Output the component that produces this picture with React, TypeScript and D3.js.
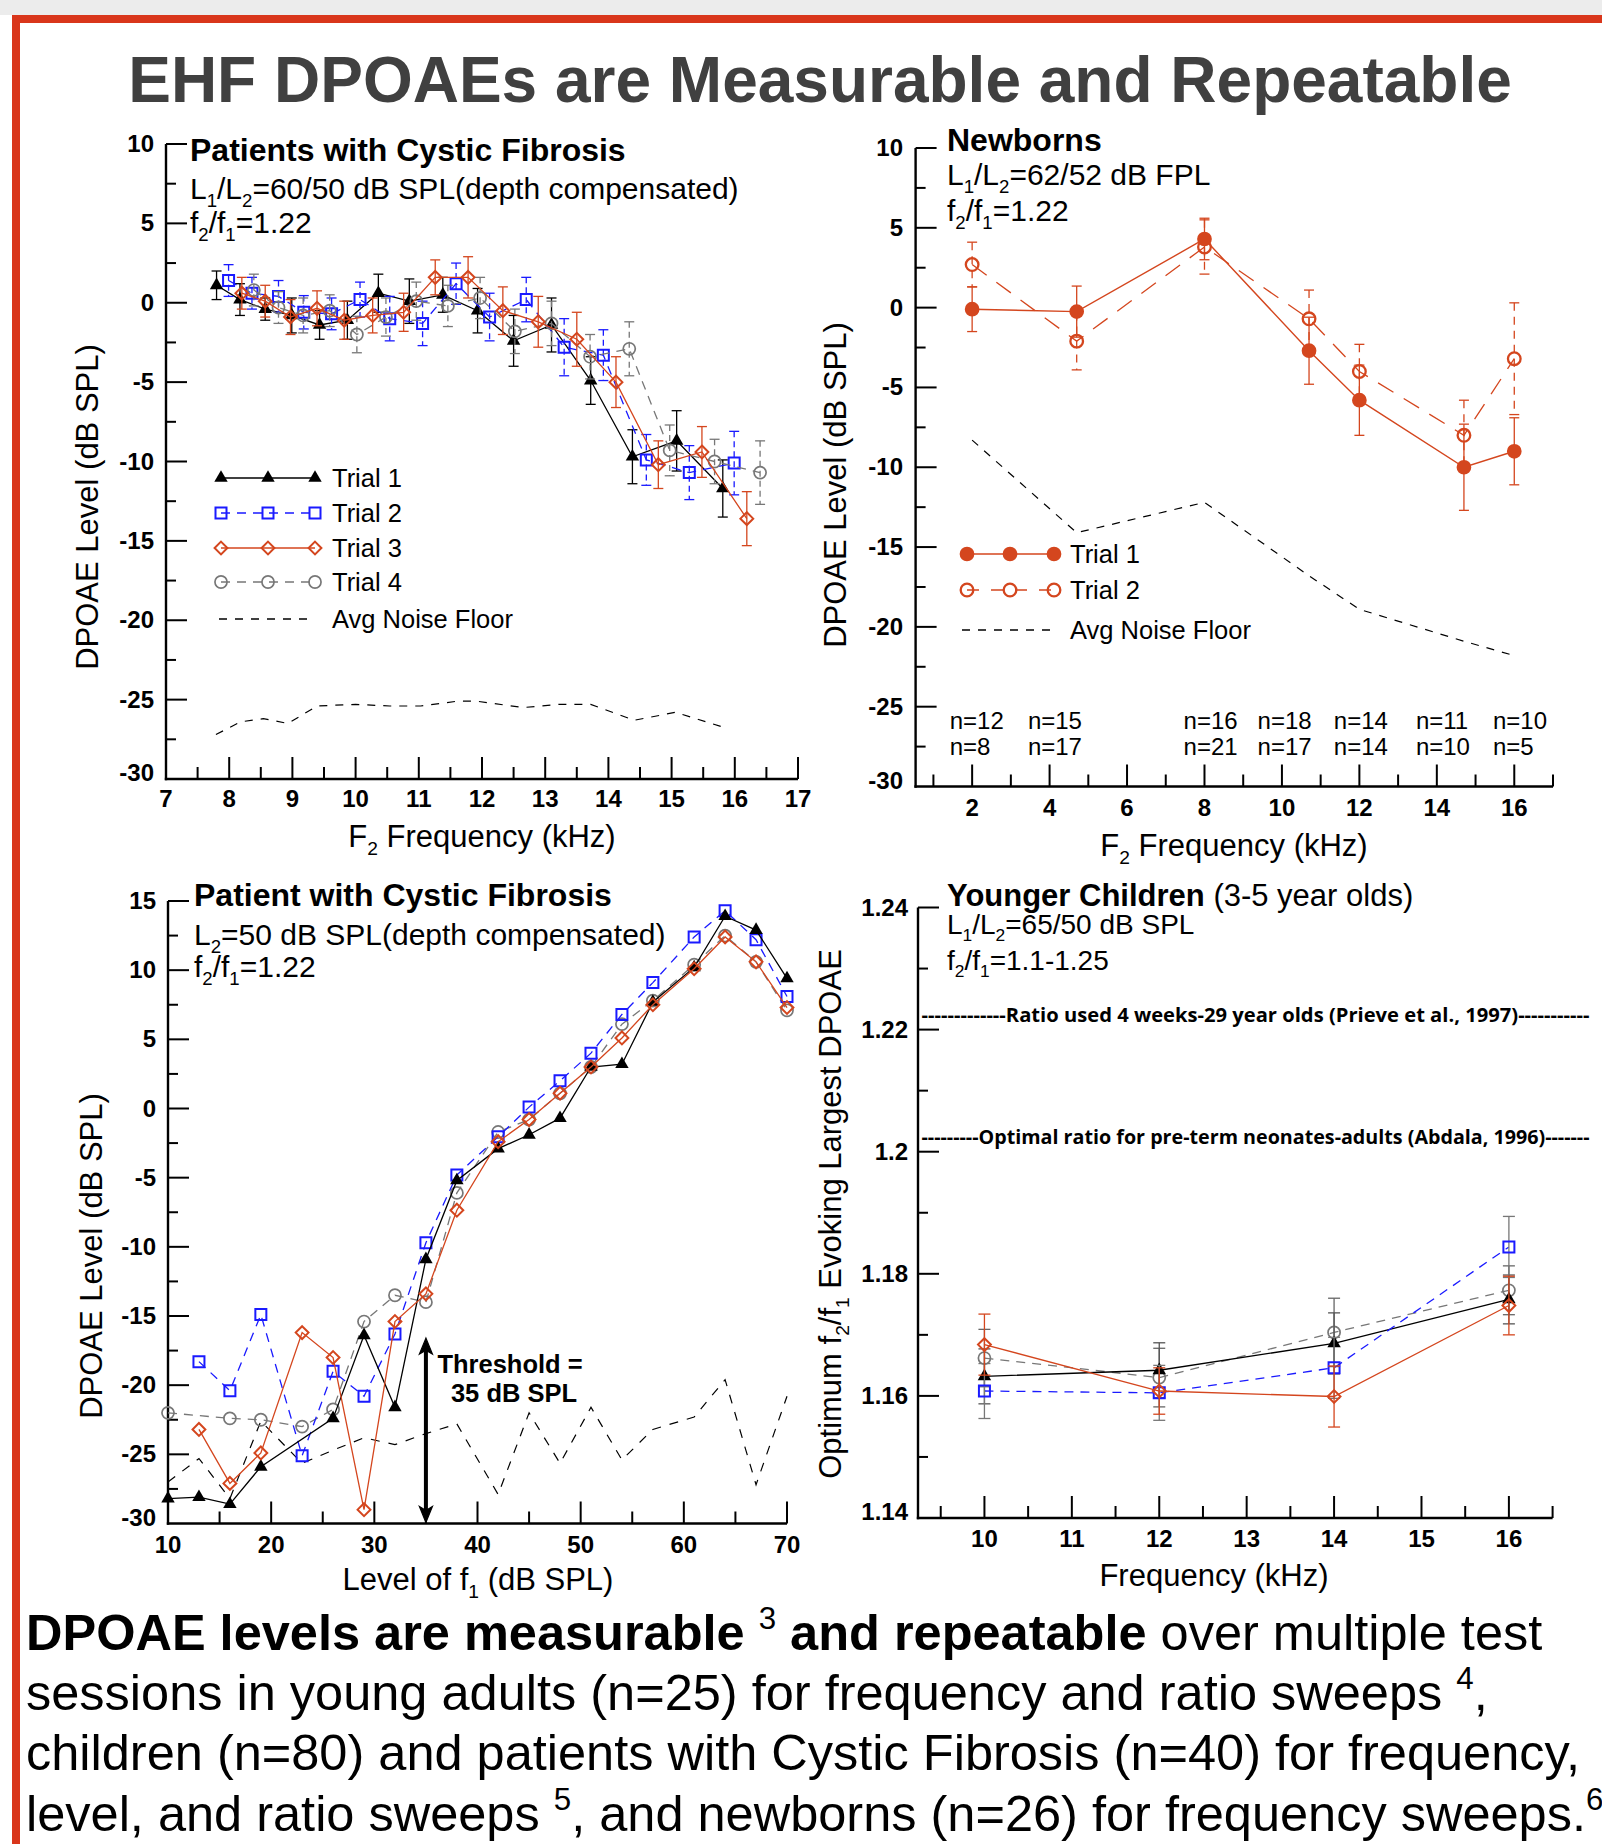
import React from "react";
import * as d3 from "d3";

const RED = "#d9361b";
const ORANGE = "#d4461e";
const BLUE = "#1a1aff";
const GRAY = "#777777";
const INK = "#000000";
const FONT = "'Liberation Sans', Arial, sans-serif";

// ---------- panel 1: patients with CF, frequency sweep ----------
const cfT1F = [7.8, 8.17, 8.57, 8.99, 9.43, 9.87, 10.36, 10.85, 11.38, 11.93, 12.5, 13.1, 13.72, 14.38, 15.08, 15.81];
const cfT1V = [1.1, 0.2, -0.4, -0.8, -1.4, -1.1, 0.6, 0.1, 0.5, -0.5, -2.4, -1.4, -4.9, -9.7, -8.7, -11.7];
const cfT1E = [0.9, 1.0, 0.7, 1.1, 0.9, 1.2, 1.2, 1.4, 1.1, 1.4, 1.6, 1.7, 1.5, 1.7, 1.9, 1.8];
const cfT2F = [7.99, 8.36, 8.78, 9.18, 9.62, 10.07, 10.54, 11.06, 11.59, 12.12, 12.7, 13.3, 13.92, 14.6, 15.28, 15.99];
const cfT2V = [1.4, 0.6, 0.4, -0.6, -0.7, 0.2, -1.0, -1.3, 1.2, -0.9, 0.2, -2.8, -3.3, -9.9, -10.7, -10.1];
const cfT2E = [1.0, 1.0, 1.0, 1.05, 1.0, 1.1, 1.4, 1.4, 1.3, 1.5, 1.4, 1.8, 1.6, 1.6, 1.7, 2.0];
const cfT3F = [8.2, 8.57, 8.97, 9.39, 9.82, 10.27, 10.76, 11.26, 11.78, 12.33, 12.89, 13.5, 14.12, 14.79, 15.48, 16.19];
const cfT3V = [0.6, 0.1, -0.9, -0.35, -1.1, -0.8, -0.6, 1.6, 1.6, -0.5, -1.2, -2.3, -5.0, -10.2, -9.4, -13.6];
const cfT3E = [1.0, 1.0, 1.1, 1.1, 1.2, 1.1, 1.2, 1.1, 1.3, 1.5, 1.6, 1.7, 1.6, 1.5, 1.6, 1.7];
const cfT4F = [8.39, 8.78, 9.17, 9.59, 10.02, 10.48, 10.96, 11.46, 11.97, 12.52, 13.1, 13.71, 14.33, 14.97, 15.68, 16.4];
const cfT4V = [0.8, -0.3, -0.8, -0.5, -2.0, -0.9, 0.1, -0.2, 0.3, -1.8, -1.3, -3.4, -2.9, -9.3, -10.0, -10.7];
const cfT4E = [1.0, 1.0, 1.1, 1.0, 1.15, 1.2, 1.2, 1.3, 1.3, 1.4, 1.4, 1.4, 1.7, 1.6, 1.4, 2.0];
const cfNoiseF = [7.79, 8.18, 8.54, 8.93, 9.39, 10.0, 10.54, 11.03, 11.61, 11.92, 12.65, 13.22, 13.72, 14.41, 15.06, 15.79];
const cfNoiseV = [-27.2, -26.4, -26.2, -26.5, -25.4, -25.3, -25.4, -25.4, -25.1, -25.1, -25.5, -25.3, -25.3, -26.3, -25.8, -26.7];

// ---------- panel 2: newborns ----------
const nbF = [2, 4.7, 8, 10.7, 12, 14.7, 16];
const nbT1 = [-0.1, -0.25, 4.3, -2.7, -5.8, -10.0, -9.0];
const nbT1E = [1.4, 1.6, 1.3, 2.1, 2.2, 2.7, 2.1];
const nbT2 = [2.7, -2.1, 3.8, -0.7, -4.0, -8.0, -3.2];
const nbT2E = [1.4, 1.8, 1.7, 1.8, 1.7, 2.2, 3.5];
const nbNoise = [-8.3, -14.1, -12.2, -16.8, -18.9, -20.9, -21.8];
const nbNTop = ["n=12", "n=15", "n=16", "n=18", "n=14", "n=11", "n=10"];
const nbNBot = ["n=8", "n=17", "n=21", "n=17", "n=14", "n=10", "n=5"];
const nbNPos = [1.42, 3.44, 7.46, 9.37, 11.34, 13.46, 15.45];

// ---------- panel 3: patient with CF, level sweep ----------
const lvl = [10, 13, 16, 19, 23, 26, 29, 32, 35, 38, 42, 45, 48, 51, 54, 57, 61, 64, 67, 70];
const lvT1 = [-28.2, -28.1, -28.6, -25.9, null, -22.4, -16.4, -21.6, -10.9, -5.2, -2.9, -1.9, -0.7, 3.0, 3.2, 7.7, 10.2, 13.9, 12.9, 9.4];
const lvT2 = [null, -18.3, -20.4, -14.9, -25.1, -19.0, -20.8, -16.3, -9.7, -4.8, -2.05, 0.1, 2.0, 4.0, 6.8, 9.1, 12.4, 14.3, 12.2, 8.1];
const lvT3 = [null, -23.2, -27.1, -24.9, -16.2, -18.0, -29.0, -15.4, -13.4, -7.35, -2.4, -0.8, 1.1, 3.0, 5.1, 7.5, 10.1, 12.4, 10.6, 7.3];
const lvT4 = [-22.0, null, -22.4, -22.5, -23.0, -21.75, -15.4, -13.5, -14.0, -6.1, -1.7, -0.8, 1.1, 3.0, 6.1, 7.8, 10.4, 12.5, 10.6, 7.1];
const lvNoise = [-27.0, -25.3, -28.2, -22.6, -25.65, -24.7, -23.8, -24.3, -23.5, -22.8, -27.9, -22.0, -25.65, -21.6, -25.4, -23.2, -22.3, -19.6, -27.2, -20.8];
const threshold = 35;

// ---------- panel 4: younger children, ratio sweep ----------
const ycF = [10, 12, 14, 16];
const ycT1 = [1.1632, 1.1642, 1.1686, 1.1758];
const ycT1E = [0.0045, 0.0045, 0.005, 0.004];
const ycT2 = [1.1608, 1.1605, 1.1646, 1.1844];
const ycT2E = [0.0045, 0.0045, 0.005, 0.005];
const ycT3 = [1.1684, 1.1608, 1.1599, 1.1748];
const ycT3E = [0.005, 0.0038, 0.005, 0.0048];
const ycT4 = [1.1662, 1.163, 1.1704, 1.1773];
const ycT4E = [0.0047, 0.0048, 0.0056, 0.004];
const refRatios = [1.2224, 1.2024];
const refTexts = [
  "-------------Ratio used 4 weeks-29 year olds (Prieve et al., 1997)-----------",
  "---------Optimal ratio for pre-term neonates-adults (Abdala, 1996)-------",
];

const sym = (type, size) => d3.symbol().type(type).size(size)();

function Mark({ k, x, y, color }) {
  const tr = `translate(${x},${y})`;
  if (k === "tri") return <path d={sym(d3.symbolTriangle, 78)} transform={tr} fill={color} />;
  if (k === "sq") return <path d={sym(d3.symbolSquare, 121)} transform={tr} fill="none" stroke={color} strokeWidth={2} />;
  if (k === "dia") return <path d={sym(d3.symbolDiamond2, 105)} transform={tr} fill="none" stroke={color} strokeWidth={2} />;
  if (k === "circ") return <path d={sym(d3.symbolCircle, 115)} transform={tr} fill="none" stroke={color} strokeWidth={1.7} />;
  if (k === "dot") return <path d={sym(d3.symbolCircle, 170)} transform={tr} fill={color} />;
  if (k === "ring") return <path d={sym(d3.symbolCircle, 125)} transform={tr} fill="none" stroke={color} strokeWidth={2.3} />;
  return null;
}

function Series({ x, y, f, v, e, k, color, dash, errColor, errDash, cap = 5, lw = 1.3 }) {
  const pts = f.map((fi, i) => ({ fx: fi, v: v[i], e: e ? e[i] : 0 })).filter((p) => p.v != null);
  const line = d3.line().x((p) => x(p.fx)).y((p) => y(p.v));
  return (
    <g>
      <path d={line(pts)} fill="none" stroke={color} strokeWidth={lw} strokeDasharray={dash} />
      {e &&
        pts.map((p, i) => {
          const cx = x(p.fx);
          const t = y(p.v + p.e);
          const b = y(p.v - p.e);
          return (
            <g key={i} stroke={errColor || color} strokeWidth={1.3}>
              <line x1={cx} x2={cx} y1={t} y2={b} strokeDasharray={errDash} />
              <line x1={cx - cap} x2={cx + cap} y1={t} y2={t} />
              <line x1={cx - cap} x2={cx + cap} y1={b} y2={b} />
            </g>
          );
        })}
      {pts.map((p, i) => (
        <Mark key={i} k={k} x={x(p.fx)} y={y(p.v)} color={color} />
      ))}
    </g>
  );
}

function Rich({ x, y, segs, size, weight = "normal", anchor = "start", rotate = false, fill = INK, family = FONT }) {
  let off = 0;
  const kids = segs.map(([t, kind = ""], i) => {
    const small = kind === "sub" || kind === "sup";
    const target = kind === "sub" ? size * 0.25 : kind === "sup" ? -size * 0.42 : 0;
    const dy = target - off;
    off = target;
    return (
      <tspan key={i} dy={dy} fontSize={small ? size * 0.62 : size} fontWeight={kind === "b" ? "bold" : undefined}>
        {t}
      </tspan>
    );
  });
  return (
    <text
      x={x}
      y={y}
      fontSize={size}
      fontWeight={weight}
      textAnchor={anchor}
      fill={fill}
      fontFamily={family}
      style={{ whiteSpace: "pre" }}
      transform={rotate ? `rotate(-90 ${x} ${y})` : undefined}
    >
      {kids}
    </text>
  );
}

function Axes({ x, y, xMaj, xMin, yMaj, yMin, xLab, yLab, xBase, yRight, fy = (v) => String(v) }) {
  const [xa, xb] = x.range();
  const [ya, yb] = y.range();
  const bottom = y.domain()[0];
  return (
    <g>
      <g stroke={INK}>
        <line x1={xa} x2={xa} y1={ya + 1.2} y2={yb} strokeWidth={2.4} />
        <line x1={xa - 1.2} x2={xb} y1={ya} y2={ya} strokeWidth={2.4} />
        {xMaj.map((v) => (
          <line key={"xM" + v} x1={x(v)} x2={x(v)} y1={ya} y2={ya - 22} strokeWidth={2} />
        ))}
        {xMin.map((v) => (
          <line key={"xm" + v} x1={x(v)} x2={x(v)} y1={ya} y2={ya - 12} strokeWidth={2} />
        ))}
        {yMaj.map((v) => (
          <line key={"yM" + v} x1={xa} x2={xa + 21} y1={y(v)} y2={y(v)} strokeWidth={2} />
        ))}
        {yMin.map((v) => (
          <line key={"ym" + v} x1={xa} x2={xa + 10} y1={y(v)} y2={y(v)} strokeWidth={2} />
        ))}
      </g>
      <g fontFamily={FONT} fontWeight="bold" fontSize={24} fill={INK}>
        {xLab.map((v) => (
          <text key={"xl" + v} x={x(v)} y={xBase} textAnchor="middle">
            {v}
          </text>
        ))}
        {yLab.map((v) => (
          <text key={"yl" + v} x={yRight} y={y(v) + (Math.abs(v - bottom) < 1e-9 ? 2 : 8)} textAnchor="end">
            {fy(v)}
          </text>
        ))}
      </g>
    </g>
  );
}

function LegendRow({ xs, y, k, color, dash, label, tx, size = 25.5 }) {
  return (
    <g>
      <line x1={xs[0]} x2={xs[xs.length - 1]} y1={y} y2={y} stroke={color} strokeWidth={1.4} strokeDasharray={dash} />
      {k && xs.map((xx, i) => <Mark key={i} k={k} x={xx} y={y} color={color} />)}
      <text x={tx} y={y + 9} fontSize={size} fontFamily={FONT} fill={INK}>
        {label}
      </text>
    </g>
  );
}

const rng = (a, b, s) => d3.range(a, b + s / 2, s).map((v) => +v.toFixed(4));

export default function App() {
  const W = 1602;
  const H = 1844;

  const x1 = d3.scaleLinear().domain([7, 17]).range([166, 798]);
  const y1 = d3.scaleLinear().domain([-30, 10]).range([779, 144]);
  const x2 = d3.scaleLinear().domain([0.54, 17]).range([915.6, 1553]);
  const y2 = d3.scaleLinear().domain([-30, 10]).range([786.5, 148]);
  const x3 = d3.scaleLinear().domain([10, 70]).range([168, 787]);
  const y3 = d3.scaleLinear().domain([-30, 15]).range([1523.5, 901]);
  const x4 = d3.scaleLinear().domain([9.24, 16.5]).range([918, 1552.6]);
  const y4 = d3.scaleLinear().domain([1.14, 1.24]).range([1518, 907.5]);

  const D = "9,7";
  const cfSeries = [
    { f: cfT1F, v: cfT1V, e: cfT1E, k: "tri", color: INK },
    { f: cfT2F, v: cfT2V, e: cfT2E, k: "sq", color: BLUE, dash: D, errDash: "6,4" },
    { f: cfT4F, v: cfT4V, e: cfT4E, k: "circ", color: GRAY, dash: D, errDash: "6,4" },
    { f: cfT3F, v: cfT3V, e: cfT3E, k: "dia", color: ORANGE },
  ];
  const lvSeries = [
    { v: lvT4, k: "circ", color: GRAY, dash: D },
    { v: lvT2, k: "sq", color: BLUE, dash: D },
    { v: lvT1, k: "tri", color: INK },
    { v: lvT3, k: "dia", color: ORANGE },
  ];
  const ycSeries = [
    { v: ycT4, e: ycT4E, k: "circ", color: GRAY, dash: D, err: "#666" },
    { v: ycT1, e: ycT1E, k: "tri", color: INK, err: "#555" },
    { v: ycT2, e: ycT2E, k: "sq", color: BLUE, dash: D, err: "#777" },
    { v: ycT3, e: ycT3E, k: "dia", color: ORANGE, err: ORANGE },
  ];

  const ax = x3(threshold);
  const aTop = y3(-16.6);
  const aBot = y3(-30) - 1;

  return (
    <svg width={W} height={H} style={{ position: "absolute", left: 0, top: 0, background: "#fff" }} fontFamily={FONT}>
      <rect x={0} y={0} width={W} height={H} fill="#fff" />
      {/* frame */}
      <rect x={0} y={0} width={W} height={15} fill="#ececec" />
      <rect x={12} y={15} width={W - 12} height={8} fill={RED} />
      <rect x={12} y={15} width={8} height={H - 15} fill={RED} />

      <text x={820} y={102} textAnchor="middle" fontSize={64} fontWeight="bold" fill="#404040">
        EHF DPOAEs are Measurable and Repeatable
      </text>

      {/* ---------- panel 1 ---------- */}
      <Axes
        x={x1}
        y={y1}
        xMaj={rng(8, 17, 1)}
        xMin={rng(7.5, 16.5, 1)}
        yMaj={rng(-25, 10, 5)}
        yMin={rng(-27.5, 7.5, 5)}
        xLab={rng(7, 17, 1)}
        yLab={rng(-30, 10, 5)}
        xBase={807}
        yRight={154}
      />
      <path
        d={d3.line().x((d) => x1(d[0])).y((d) => y1(d[1]))(cfNoiseF.map((f, i) => [f, cfNoiseV[i]]))}
        fill="none"
        stroke={INK}
        strokeWidth={1.2}
        strokeDasharray="8,8"
      />
      {cfSeries.map((s, i) => (
        <Series key={i} x={x1} y={y1} {...s} />
      ))}
      <Rich x={190} y={161} size={32} segs={[["Patients with Cystic Fibrosis", "b"]]} />
      <Rich x={190} y={199} size={30} segs={[["L"], ["1", "sub"], ["/L"], ["2", "sub"], ["=60/50 dB SPL(depth compensated)"]]} />
      <Rich x={190} y={233} size={30} segs={[["f"], ["2", "sub"], ["/f"], ["1", "sub"], ["=1.22"]]} />
      <LegendRow xs={[221, 268, 315]} y={478} k="tri" color={INK} label="Trial 1" tx={332} />
      <LegendRow xs={[221, 268, 315]} y={513} k="sq" color={BLUE} dash={D} label="Trial 2" tx={332} />
      <LegendRow xs={[221, 268, 315]} y={548} k="dia" color={ORANGE} label="Trial 3" tx={332} />
      <LegendRow xs={[221, 268, 315]} y={582} k="circ" color={GRAY} dash={D} label="Trial 4" tx={332} />
      <LegendRow xs={[219, 315]} y={619} color={INK} dash="8,8" label="Avg Noise Floor" tx={332} />
      <Rich x={98} y={507} size={31} anchor="middle" rotate segs={[["DPOAE Level (dB SPL)"]]} />
      <Rich x={482} y={847} size={31} anchor="middle" segs={[["F"], ["2", "sub"], [" Frequency (kHz)"]]} />

      {/* ---------- panel 2 ---------- */}
      <Axes
        x={x2}
        y={y2}
        xMaj={rng(2, 16, 2)}
        xMin={rng(1, 17, 2)}
        yMaj={rng(-25, 10, 5)}
        yMin={rng(-27.5, 7.5, 5)}
        xLab={rng(2, 16, 2)}
        yLab={rng(-30, 10, 5)}
        xBase={816}
        yRight={903}
      />
      <path
        d={d3.line().x((d) => x2(d[0])).y((d) => y2(d[1]))(nbF.map((f, i) => [f, nbNoise[i]]))}
        fill="none"
        stroke={INK}
        strokeWidth={1.2}
        strokeDasharray="8,8"
      />
      <Series x={x2} y={y2} f={nbF} v={nbT2} e={nbT2E} k="ring" color={ORANGE} dash="18,12" errDash="8,6" lw={1.3} />
      <Series x={x2} y={y2} f={nbF} v={nbT1} e={nbT1E} k="dot" color={ORANGE} lw={1.4} />
      <Rich x={947} y={151} size={32} segs={[["Newborns", "b"]]} />
      <Rich x={947} y={185} size={30} segs={[["L"], ["1", "sub"], ["/L"], ["2", "sub"], ["=62/52 dB FPL"]]} />
      <Rich x={947} y={221} size={30} segs={[["f"], ["2", "sub"], ["/f"], ["1", "sub"], ["=1.22"]]} />
      <LegendRow xs={[967, 1010, 1054]} y={554} k="dot" color={ORANGE} label="Trial 1" tx={1070} />
      <LegendRow xs={[967, 1010, 1054]} y={590} k="ring" color={ORANGE} dash="12,12" label="Trial 2" tx={1070} />
      <LegendRow xs={[962, 1055]} y={630} color={INK} dash="8,8" label="Avg Noise Floor" tx={1070} />
      <g fontSize={24} fontFamily={FONT} fill={INK}>
        {nbNPos.map((p, i) => (
          <g key={i}>
            <text x={x2(p)} y={729}>
              {nbNTop[i]}
            </text>
            <text x={x2(p)} y={755}>
              {nbNBot[i]}
            </text>
          </g>
        ))}
      </g>
      <Rich x={846} y={485} size={31} anchor="middle" rotate segs={[["DPOAE Level (dB SPL)"]]} />
      <Rich x={1234} y={856} size={31} anchor="middle" segs={[["F"], ["2", "sub"], [" Frequency (kHz)"]]} />

      {/* ---------- panel 3 ---------- */}
      <Axes
        x={x3}
        y={y3}
        xMaj={rng(20, 70, 10)}
        xMin={rng(15, 65, 10)}
        yMaj={rng(-25, 15, 5)}
        yMin={rng(-27.5, 12.5, 5)}
        xLab={rng(10, 70, 10)}
        yLab={rng(-30, 15, 5)}
        xBase={1553}
        yRight={156}
      />
      <path
        d={d3.line().x((d) => x3(d[0])).y((d) => y3(d[1]))(lvl.map((l, i) => [l, lvNoise[i]]))}
        fill="none"
        stroke={INK}
        strokeWidth={1.2}
        strokeDasharray="9,9"
      />
      {lvSeries.map((s, i) => (
        <Series key={i} x={x3} y={y3} f={lvl} {...s} />
      ))}
      <g stroke={INK} fill={INK}>
        <line x1={ax} x2={ax} y1={aTop + 8} y2={aBot - 8} strokeWidth={4} />
        <path d={`M${ax},${aTop} L${ax - 6.5},${aTop + 16} L${ax},${aTop + 12} L${ax + 6.5},${aTop + 16} Z`} strokeWidth={1.2} />
        <path d={`M${ax},${aBot} L${ax - 6.5},${aBot - 16} L${ax},${aBot - 12} L${ax + 6.5},${aBot - 16} Z`} strokeWidth={1.2} />
      </g>
      <text x={510} y={1373} textAnchor="middle" fontSize={25.5} fontWeight="bold" fill={INK}>
        Threshold =
      </text>
      <text x={514} y={1402} textAnchor="middle" fontSize={25.5} fontWeight="bold" fill={INK}>
        35 dB SPL
      </text>
      <Rich x={194} y={906} size={32} segs={[["Patient with Cystic Fibrosis", "b"]]} />
      <Rich x={194} y={945} size={30} segs={[["L"], ["2", "sub"], ["=50 dB SPL(depth compensated)"]]} />
      <Rich x={194} y={977} size={30} segs={[["f"], ["2", "sub"], ["/f"], ["1", "sub"], ["=1.22"]]} />
      <Rich x={102} y={1256} size={31} anchor="middle" rotate segs={[["DPOAE Level (dB SPL)"]]} />
      <Rich x={478} y={1590} size={31} anchor="middle" segs={[["Level of f"], ["1", "sub"], [" (dB SPL)"]]} />

      {/* ---------- panel 4 ---------- */}
      <Axes
        x={x4}
        y={y4}
        xMaj={rng(10, 16, 1)}
        xMin={rng(9.5, 16.5, 1)}
        yMaj={rng(1.16, 1.24, 0.02)}
        yMin={rng(1.15, 1.23, 0.02)}
        xLab={rng(10, 16, 1)}
        yLab={rng(1.14, 1.24, 0.02)}
        xBase={1547}
        yRight={908}
        fy={(v) => String(+v.toFixed(2))}
      />
      {refRatios.map((r, i) => (
        <text
          key={i}
          x={921.5}
          y={y4(r) + 7}
          fontSize={20}
          fontWeight="bold"
          fontFamily="'Liberation Sans Narrow', 'Open Sans', sans-serif"
          textLength={668}
          lengthAdjust="spacingAndGlyphs"
          fill={INK}
        >
          {refTexts[i]}
        </text>
      ))}
      {ycSeries.map((s, i) => (
        <Series key={i} x={x4} y={y4} f={ycF} v={s.v} e={s.e} k={s.k} color={s.color} dash={s.dash} errColor={s.err} cap={6} />
      ))}
      <Rich x={947} y={906} size={31} segs={[["Younger Children", "b"], [" (3-5 year olds)"]]} />
      <Rich x={947} y={934} size={28} segs={[["L"], ["1", "sub"], ["/L"], ["2", "sub"], ["=65/50 dB SPL"]]} />
      <Rich x={947} y={970} size={28} segs={[["f"], ["2", "sub"], ["/f"], ["1", "sub"], ["=1.1-1.25"]]} />
      <Rich
        x={841}
        y={1214}
        size={31}
        anchor="middle"
        rotate
        segs={[["Optimum f"], ["2", "sub"], ["/f"], ["1", "sub"], [" Evoking Largest DPOAE"]]}
      />
      <Rich x={1214} y={1586} size={31} anchor="middle" segs={[["Frequency (kHz)"]]} />

      {/* ---------- summary ---------- */}
      <Rich
        x={26}
        y={1650}
        size={50.5}
        segs={[["DPOAE levels are measurable ", "b"], ["3", "sup"], [" "], ["and repeatable", "b"], [" over multiple test"]]}
      />
      <Rich x={26} y={1710} size={50.5} segs={[["sessions in young adults (n=25) for frequency and ratio sweeps "], ["4", "sup"], [","]]} />
      <Rich x={26} y={1770} size={50.5} segs={[["children (n=80) and patients with Cystic Fibrosis (n=40) for frequency,"]]} />
      <Rich
        x={26}
        y={1831}
        size={50.5}
        segs={[["level, and ratio sweeps "], ["5", "sup"], [", and newborns (n=26) for frequency sweeps."], ["6", "sup"]]}
      />
    </svg>
  );
}
